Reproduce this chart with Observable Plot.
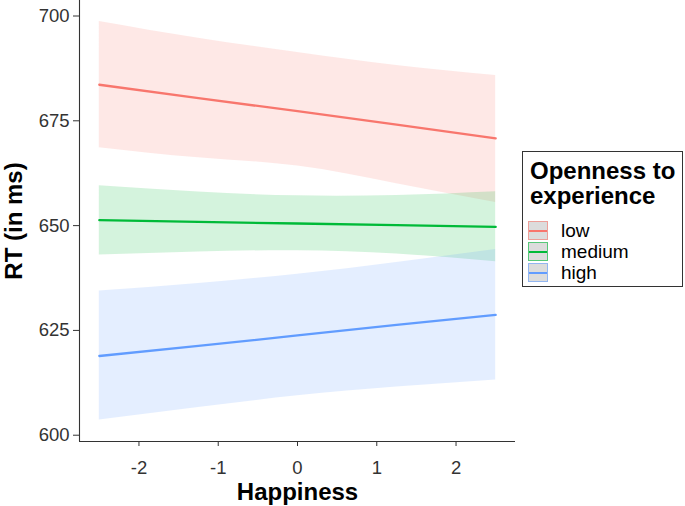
<!DOCTYPE html>
<html>
<head>
<meta charset="utf-8">
<script src="https://cdn.jsdelivr.net/npm/d3@7"></script>
<script src="https://cdn.jsdelivr.net/npm/@observablehq/plot@0.6"></script>
<style>
  html, body { margin: 0; padding: 0; background: #fff; }
  body { font-family: "Liberation Sans", Arial, sans-serif; }
  #wrap { position: relative; width: 685px; height: 506px; }
  #legend { position: absolute; left: 522px; top: 151px; width: 159px; height: 134px;
            border: 1px solid #333; box-sizing: content-box; }
  #legend .title { position: absolute; left: 7px; top: 6px; font-size: 24px; font-weight: bold;
                   line-height: 25px; color: #000; }
  #legend .row { position: absolute; left: 5px; height: 21px; display: flex; align-items: center; }
  #legend .key { width: 18px; height: 17px; background: #dcdcdc; position: relative; border: 1.5px solid; }
  #legend .key .ln { position: absolute; left: 0; right: 0; top: 7.5px; height: 2px; }
  #legend .lab { margin-left: 13px; font-size: 19px; color: #000; }
</style>
</head>
<body>
<div id="wrap"></div>
<script>
// ---- data ----
const happiness = [-2.5, -1.25, 0, 1.25, 2.5];
const groups = ["low", "medium", "high"];
const colors = ["#F8766D", "#00BA38", "#619CFF"];

const lowFit   = [683.6, 680.4, 677.3, 674.1, 670.8];
const lowLower = [668.6, 666.2, 664.2, 660.0, 655.5];
const lowUpper = [698.7, 694.7, 691.3, 688.2, 685.8];

const medFit   = [651.3, 650.9, 650.5, 650.1, 649.7];
const medLower = [643.0, 643.7, 644.0, 643.2, 641.4];
const medUpper = [659.5, 658.0, 657.1, 657.2, 658.1];

const highFit   = [618.9, 621.3, 623.8, 626.3, 628.7];
const highLower = [603.6, 606.6, 609.4, 611.5, 613.2];
const highUpper = [634.4, 636.2, 638.4, 641.2, 644.3];

const xTicks = [-2, -1, 0, 1, 2];
const yTicks = [600, 625, 650, 675, 700];
const xTitle = "Happiness";
const yTitle = "RT (in ms)";
const legendTitle = ["Openness to", "experience"];

// ---- table built from the arrays ----
const series = [
  [lowFit, lowLower, lowUpper],
  [medFit, medLower, medUpper],
  [highFit, highLower, highUpper]
];
const rows = [];
groups.forEach((g, gi) => {
  happiness.forEach((x, i) => {
    rows.push({group: g, x, fit: series[gi][0][i], lo: series[gi][1][i], hi: series[gi][2][i]});
  });
});

const xDomain = [-2.75, 2.75];
const yDomain = [598.5, 703.7];
const font = "Liberation Sans, Arial, sans-serif";

const chart = Plot.plot({
  width: 685,
  height: 506,
  marginLeft: 79,
  marginRight: 170,
  marginTop: 0,
  marginBottom: 65,
  style: {fontFamily: font, background: "transparent"},
  x: {domain: xDomain, label: null},
  y: {domain: yDomain, label: null},
  color: {domain: groups, range: colors},
  marks: [
    Plot.areaY(rows, {x: "x", y1: "lo", y2: "hi", z: "group", fill: "group", fillOpacity: 0.17, curve: "natural"}),
    Plot.lineY(rows, {x: "x", y: "fit", z: "group", stroke: "group", strokeWidth: 2.3, curve: "linear"}),
    Plot.axisX({ticks: xTicks, tickSize: 5, tickPadding: 14, fontSize: 18.5, stroke: "#333", fill: "#333", label: null, tickFormat: d => String(d).replace("\u2212", "-")}),
    Plot.axisY({ticks: yTicks, tickSize: 6, tickPadding: 4, fontSize: 18.5, stroke: "#333", fill: "#333", label: null}),
    Plot.ruleX([xDomain[0]], {stroke: "#333", strokeWidth: 1.1}),
    Plot.ruleY([yDomain[0]], {stroke: "#333", strokeWidth: 1.1}),
    Plot.text([xTitle], {frameAnchor: "bottom", dy: 51, lineAnchor: "middle", fontSize: 24, fontWeight: "bold", fill: "#000"}),
    Plot.text([yTitle], {frameAnchor: "left", dx: -65, rotate: -90, lineAnchor: "middle", textAnchor: "middle", fontSize: 24, fontWeight: "bold", fill: "#000"})
  ]
});
const wrap = document.getElementById("wrap");
wrap.appendChild(chart);

// ---- legend ----
const lg = document.createElement("div");
lg.id = "legend";
const t = document.createElement("div");
t.className = "title";
t.innerHTML = legendTitle.join("<br>");
lg.appendChild(t);
groups.forEach((g, i) => {
  const r = document.createElement("div");
  r.className = "row";
  r.style.top = (68 + i * 21) + "px";
  const k = document.createElement("div");
  k.className = "key";
  k.style.borderColor = d3.color(colors[i]).copy({opacity: 0.6}).toString();
  const ln = document.createElement("div");
  ln.className = "ln";
  ln.style.background = colors[i];
  k.appendChild(ln);
  const lab = document.createElement("span");
  lab.className = "lab";
  lab.textContent = g;
  r.appendChild(k);
  r.appendChild(lab);
  lg.appendChild(r);
});
wrap.appendChild(lg);
</script>
</body>
</html>
